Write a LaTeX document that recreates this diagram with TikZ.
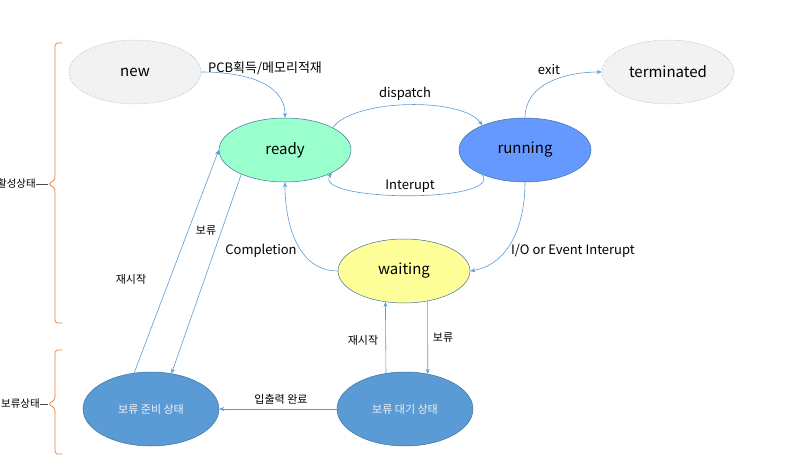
\documentclass[tikz,border=0pt]{standalone}
\usepackage{fontspec}
\setmainfont{Noto Sans CJK KR}
\usetikzlibrary{shapes.geometric,arrows.meta}
\definecolor{edgeblue}{HTML}{5B9BD5}
\definecolor{bordblue}{HTML}{41719C}
\definecolor{greyfill}{HTML}{F2F2F2}
\definecolor{mint}{HTML}{99FFCC}
\definecolor{runblue}{HTML}{6699FF}
\definecolor{waityellow}{HTML}{FFFF99}
\definecolor{holdblue}{HTML}{5B9BD5}
\definecolor{braceorange}{HTML}{ED7D31}
\tikzset{
  state/.style={ellipse, inner sep=0pt, minimum width=132pt, minimum height=64pt, draw=bordblue, line width=0.5pt, font=\fontsize{15}{17}\selectfont},
  greystate/.style={state, fill=greyfill, draw=edgeblue!80, densely dotted},
  holdstate/.style={ellipse, inner sep=0pt, minimum width=136pt, minimum height=74pt, draw=bordblue, line width=0.5pt, fill=holdblue, text=white!94!black, font=\fontsize{11}{13}\selectfont},
  conn/.style={draw=edgeblue, line width=0.6pt, -{Stealth[length=5pt,width=4pt]}},
  biglbl/.style={inner sep=0pt, font=\fontsize{13}{15}\selectfont},
  smalllbl/.style={inner sep=0pt, font=\fontsize{11}{13}\selectfont},
  sidelbl/.style={inner sep=0pt, font=\fontsize{10.5}{12}\selectfont},
  bracestyle/.style={draw=braceorange, line width=0.7pt, rounded corners=3pt}
}
\begin{document}
\begin{tikzpicture}[x=1pt,y=-1pt]
\useasboundingbox (0,0) rectangle (788,466);
% states
\node[greystate] (new) at (135,72) {new};
\node[state, fill=mint] (ready) at (285,150) {ready};
\node[state, fill=runblue] (running) at (525,150) {running};
\node[greystate] (term) at (668,72) {terminated};
\node[state, fill=waityellow] (waiting) at (404,271) {waiting};
\node[holdstate] (bj) at (151,409) {보류 준비 상태};
\node[holdstate] (bd) at (405,409) {보류 대기 상태};
% connectors
\draw[conn] (new.east) to[out=0,in=90] (ready.north);
\draw[conn] (ready.25) to[out=55,in=125,looseness=0.6] (running.150);
\draw[conn] (running.210) to[out=-55,in=-125,looseness=0.6] (ready.334);
\draw[conn] (running.north) to[out=90,in=180] (term.west);
\draw[conn] (running.south) to[out=-90,in=10] (waiting.east);
\draw[conn] (waiting.west) to[out=180,in=-90] (ready.south);
\draw[conn] (ready.209) -- (bj.60);
\draw[conn] (bj.115) -- (ready.west);
\draw[conn] (waiting.-52.5) -- (bd.57.8);
\draw[conn] (bd.118) -- (waiting.239.7);
\draw[conn] (bd.west) -- (bj.east);
% labels
\node[biglbl] (l1) at (265,68) {PCB획득/메모리적재};
\node[biglbl] (l2) at (405,94) {dispatch};
\node[biglbl] (l3) at (410,186) {Interupt};
\node[biglbl] (l4) at (549,70) {exit};
\node[biglbl] (l5) at (573,251) {I/O or Event Interupt};
\node[biglbl] (l6) at (261,251) {Completion};
\node[smalllbl] (l7) at (206,231) {보류};
\node[smalllbl] (l8) at (131,279) {재시작};
\node[smalllbl] (l9) at (443,338) {보류};
\node[smalllbl] (l10) at (363,340) {재시작};
\node[smalllbl] (l11) at (281,399) {입출력 완료};
% braces
\draw[bracestyle] (62,43) -- (55,43) -- (55,180) -- (48,184) -- (55,188) -- (55,323) -- (62,323);
\draw[bracestyle] (62,350) -- (55,350) -- (55,400) -- (48,404) -- (55,408) -- (55,454) -- (62,454);
\node[sidelbl, anchor=east] (act) at (36,184) {활성상태};
\node[sidelbl, anchor=east] (hold) at (40,404) {보류상태};
\coordinate (acttip) at (48,184);
\coordinate (holdtip) at (48,404);
\draw[black!70, line width=0.6pt] (act.east) -- (acttip);
\draw[black!70, line width=0.6pt] (hold.east) -- (holdtip);
\end{tikzpicture}
\end{document}
